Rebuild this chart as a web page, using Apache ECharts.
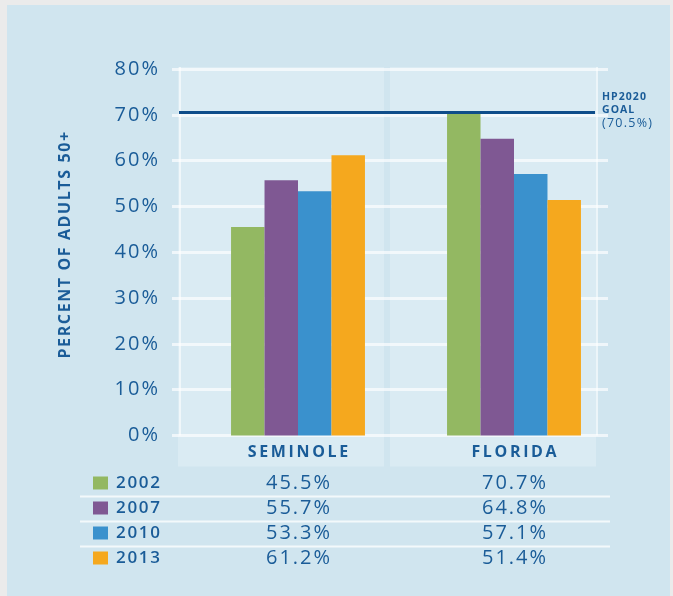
<!DOCTYPE html>
<html>
<head>
<meta charset="utf-8">
<script src="https://cdn.jsdelivr.net/npm/echarts@6/dist/echarts.min.js"></script>
<style>
  html, body { margin: 0; padding: 0; background: #ebebeb; }
  #chart { width: 673px; height: 596px; }
</style>
</head>
<body>
<div id="chart"></div>
<script>
// data
const categories = ['SEMINOLE', 'FLORIDA']
const years = ['2002', '2007', '2010', '2013']
const v2002 = [45.5, 70.7]
const v2007 = [55.7, 64.8]
const v2010 = [53.3, 57.1]
const v2013 = [61.2, 51.4]
const goalValue = 70.5
const goalLabel = ['HP2020', 'GOAL', '(70.5%)']
const yTitle = 'PERCENT OF ADULTS 50+'
const yMin = 0
const yMax = 80
const yStep = 10

const seriesValues = [v2002, v2007, v2010, v2013]
const colors = ['#93b862', '#7f5893', '#3a91cd', '#f5a81e']
const textColor = '#1a5c98'
const font = '"Open Sans", "DejaVu Sans", sans-serif'
const spaced = (s, sp) => s.split('').join(sp)

const gridTop = 69
const gridBottom = 596 - 435.5

const chart = echarts.init(document.getElementById('chart'))

const option = {
  backgroundColor: '#ebebeb',
  animation: false,
  textStyle: { fontFamily: font },
  grid: [
    { left: 172, right: 65, top: gridTop, bottom: gridBottom },
    { left: 190, right: 51, top: gridTop, bottom: gridBottom },
    { left: 179, right: 78, top: gridTop, bottom: gridBottom },
  ],
  xAxis: [
    { gridIndex: 0, type: 'category', data: categories, show: false },
    {
      gridIndex: 1,
      type: 'category',
      data: categories,
      axisLine: { show: false },
      axisTick: { show: false },
      axisLabel: {
        margin: 9,
        color: textColor,
        fontSize: 16,
        fontWeight: 'bold',
        fontFamily: font,
        formatter: (v) => spaced(v, '\u2009'),
      },
    },
    { gridIndex: 2, type: 'value', min: 0, max: 1, show: false },
  ],
  yAxis: [
    {
      gridIndex: 0,
      type: 'value',
      min: yMin,
      max: yMax,
      interval: yStep,
      axisLine: { show: false },
      axisTick: { show: false },
      axisLabel: {
        margin: 14,
        color: textColor,
        fontSize: 20,
        fontFamily: font,
        formatter: (v) => spaced(v + '%', '\u200A'),
      },
      splitLine: { lineStyle: { color: 'rgba(255,255,255,0.65)', width: 3 } },
    },
    { gridIndex: 1, type: 'value', min: yMin, max: yMax, show: false },
    { gridIndex: 2, type: 'value', min: yMin, max: yMax, show: false },
  ],
  series: [
    ...years.map((y, i) => ({
      name: y,
      type: 'bar',
      xAxisIndex: 1,
      yAxisIndex: 1,
      barWidth: '15.5%',
      barGap: '0%',
      z: 3,
      itemStyle: { color: colors[i] },
      data: seriesValues[i],
    })),
    {
      type: 'line',
      xAxisIndex: 2,
      yAxisIndex: 2,
      data: [],
      z: 1,
      markLine: {
        silent: true,
        symbol: ['none', 'none'],
        label: { show: false },
        lineStyle: { color: '#0e4d8a', width: 3, type: 'solid' },
        data: [{ yAxis: goalValue }],
      },
    },
  ],
}

chart.setOption(option)

// backgrounds + table under the chart
const xs = categories.map((c) => chart.convertToPixel({ xAxisIndex: 1 }, c))
const y0 = chart.convertToPixel({ yAxisIndex: 0 }, yMin)
const yTop = chart.convertToPixel({ yAxisIndex: 0 }, yMax)
const yGoal = chart.convertToPixel({ yAxisIndex: 2 }, goalValue)

const graphics = [
  { type: 'rect', z: -20, shape: { x: 7, y: 5, width: 663, height: 591 }, style: { fill: '#d0e5ef' } },
  { type: 'rect', z: -19, shape: { x: 178, y: yTop - 2, width: 206, height: 466.5 - yTop + 2 }, style: { fill: '#daebf3' } },
  { type: 'rect', z: -19, shape: { x: 390, y: yTop - 2, width: 206, height: 466.5 - yTop + 2 }, style: { fill: '#daebf3' } },
  { type: 'line', z: -18, shape: { x1: 180, y1: yTop - 2, x2: 180, y2: y0 }, style: { stroke: 'rgba(255,255,255,0.6)', lineWidth: 2 } },
  { type: 'line', z: -18, shape: { x1: 597, y1: yTop - 2, x2: 597, y2: y0 }, style: { stroke: 'rgba(255,255,255,0.6)', lineWidth: 2 } },
  {
    type: 'text', z: 10,
    x: 65, y: (y0 + yTop) / 2 - 7,
    rotation: Math.PI / 2,
    style: {
      x: 0, y: 0,
      text: spaced(yTitle, '\u200A'),
      fill: textColor,
      font: 'bold 16px ' + font,
      textAlign: 'center',
      textVerticalAlign: 'middle',
    },
  },
]

goalLabel.forEach((t, i) => {
  graphics.push({
    type: 'text', z: 10,
    style: {
      x: 602, y: yGoal - 16 + i * 13.5,
      text: i < 2 ? spaced(t, '\u200A') : spaced(t, '\u200A'),
      fill: textColor,
      font: (i < 2 ? 'bold 10.5px ' : '12.5px ') + font,
      textVerticalAlign: 'middle',
    },
  })
})

const rowY = [483, 508, 533, 558]
const sepY = [496.5, 521.5, 546.5]
sepY.forEach((y) => {
  graphics.push({ type: 'line', z: -15, shape: { x1: 80, y1: y, x2: 610, y2: y }, style: { stroke: 'rgba(255,255,255,0.75)', lineWidth: 2 } })
})
years.forEach((yr, i) => {
  graphics.push({ type: 'rect', z: 10, shape: { x: 93, y: rowY[i] - 6.5, width: 15, height: 13 }, style: { fill: colors[i] } })
  graphics.push({
    type: 'text', z: 10,
    style: { x: 116, y: rowY[i], text: spaced(yr, '\u200A'), fill: textColor, font: '600 17px ' + font, textVerticalAlign: 'middle' },
  })
  categories.forEach((c, j) => {
    graphics.push({
      type: 'text', z: 10,
      style: {
        x: xs[j], y: rowY[i],
        text: spaced(seriesValues[i][j].toFixed(1) + '%', '\u200A'),
        fill: textColor, font: '20px ' + font,
        textAlign: 'center', textVerticalAlign: 'middle',
      },
    })
  })
})

chart.setOption({ graphic: graphics })
</script>
</body>
</html>
